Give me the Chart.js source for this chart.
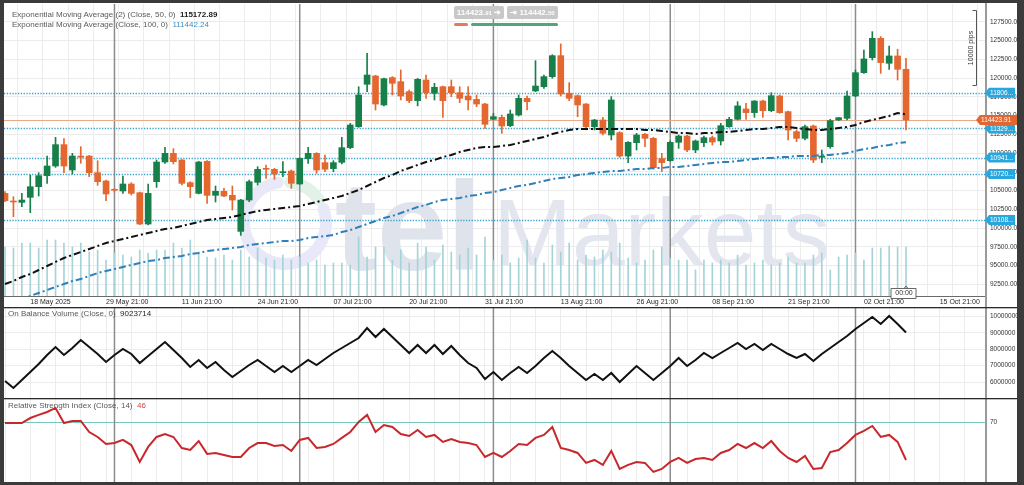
<!DOCTYPE html>
<html>
<head>
<meta charset="utf-8">
<title>Price chart</title>
<script src="https://cdn.jsdelivr.net/npm/chart.js@4.4.1/dist/chart.umd.min.js"></script>
<style>
  html, body { margin:0; padding:0; width:1024px; height:485px; overflow:hidden; background:#3b3b3b; font-family:'Liberation Sans', Arial, sans-serif; }
  #frame { position:absolute; left:4px; top:3px; width:1013px; height:479px; background:#fff; overflow:hidden; }
  #frame canvas { position:absolute; left:0; }
  .txt { position:absolute; font-size:8px; line-height:10px; color:#5a5a5a; white-space:nowrap; }
  .txt b { color:#1e1e1e; font-weight:bold; }
  .box { position:absolute; top:3px; height:13px; line-height:13px; background:#c8c8c8; color:#fff; font-size:8px; font-weight:bold; text-align:center; border-radius:2px; white-space:nowrap; }
  .bar { position:absolute; top:20px; height:3px; border-radius:2px; }
</style>
</head>
<body>
<div id="frame">
  <canvas id="cPrice" width="1013" height="304" style="top:0px"></canvas>
  <canvas id="cObv" width="1013" height="91" style="top:304px"></canvas>
  <canvas id="cRsi" width="1013" height="84" style="top:395px"></canvas>
  <div class="txt" style="left:8px;top:7px">Exponential Moving Average (2) (Close, 50, 0)&nbsp; <b>115172.89</b></div>
  <div class="txt" style="left:8px;top:17px">Exponential Moving Average (Close, 100, 0)&nbsp; <span style="color:#3d8fbf">111442.24</span></div>
  <div class="box" style="left:450px;width:50px">114423.<span style="font-size:6px">91</span> &#10132;</div>
  <div class="box" style="left:503px;width:51px">&#8677; 114442.<span style="font-size:6px">50</span></div>
  <div class="bar" style="left:450px;width:14px;background:#df7c5c"></div>
  <div class="bar" style="left:467px;width:87px;background:#50a67a"></div>
  <div class="txt" style="left:4px;top:306px">On Balance Volume (Close, 0)&nbsp; <span style="color:#1e1e1e">9023714</span></div>
  <div class="txt" style="left:4px;top:398px">Relative Strength Index (Close, 14)&nbsp; <span style="color:#d04848">46</span></div>
</div>
<script>
// ---------------- DATA ----------------
const opens = [104630,103610,103430,104100,105520,106990,108280,111130,107750,109610,
109610,107390,106280,105120,104950,105880,104720,100540,106190,108810,
109970,109080,106060,104630,108900,104370,104900,104370,99560,103740,
106100,107880,107840,107390,107610,105880,109260,109970,108730,107930,
108770,110730,113530,119180,120290,116420,120070,119530,118200,117000,
119750,117980,118860,118860,118060,117620,117170,116550,114510,114770,
113660,115080,117310,118290,118860,120200,123000,117980,117660,116550,
113530,114420,112420,112730,109610,111390,112510,111970,109260,108990,
111440,112280,110420,111390,112060,111620,113530,114510,115890,115400,
116950,115660,117620,115530,112860,111970,113620,109440,110860,114420,
114640,117620,120730,122730,125310,121980,122960,121180];
const highs = [104860,104190,104630,107080,107390,109610,112100,111930,109970,110860,
109700,108990,106410,105250,106950,106060,104810,105880,109080,110770,
110590,109150,106190,108900,108990,105610,105300,105610,103830,106410,
108190,108410,107970,108860,107750,109350,110770,110060,109750,108990,
112100,113970,118860,123310,120380,120020,120200,121090,118420,119980,
120420,119310,118950,119750,118860,118860,117750,116640,115310,115080,
115750,117750,117620,122330,120420,123130,124560,119400,117750,116600,
114510,114770,117530,112860,111530,112640,112640,112100,109970,111620,
112420,112420,111750,112280,112280,113970,114770,116860,116640,117000,
117090,118060,117750,115600,113080,113750,113750,110420,114510,114770,
118290,121090,123760,126200,125540,124290,123850,122640];
const lows = [103520,101520,102860,102050,104280,105970,108100,107390,107210,108640,
106860,105700,103660,104810,104630,104410,100450,100410,105430,108640,
108550,105750,104060,104550,103300,103480,104190,102410,99030,103520,
105750,106640,106500,106860,105300,105840,108640,107300,107520,107520,
108550,110590,113440,118200,115750,116290,117750,117090,116730,116290,
117310,117090,114770,117530,116730,115750,116200,113310,114420,112640,
113530,114950,115750,118200,118640,119980,117620,117000,114860,113080,
113080,112420,111750,109440,108730,110420,110860,107840,107520,108900,
110640,110190,110060,110860,111080,111080,113440,114420,114510,114770,
114770,115530,115310,111750,111530,111750,108730,108730,110640,114330,
114420,117530,120640,122420,120640,121180,119750,113080];
const closes = [103660,103480,103740,105520,106990,108280,111130,108280,109610,109440,
107390,106190,104550,105040,105880,104630,100540,104630,108810,109970,
108860,105970,105520,108810,104370,104900,104280,103740,103740,106190,
107840,107840,107210,107520,105970,109300,109970,107750,107840,108730,
110730,113750,117750,120420,116550,119930,119310,117620,117000,119840,
118060,118780,117000,118060,117310,117090,116550,113840,114860,113620,
115220,117310,116860,118950,120200,123000,117890,117310,116420,113530,
114420,112640,117090,109610,111440,112420,111970,108060,108730,111440,
112280,110420,111620,112060,111480,113660,114510,116290,115400,116950,
115660,117660,115400,113080,111970,113530,109080,109610,114330,114730,
117620,120730,122560,125310,122070,122960,121180,114424];
const volumes = [49,48,53,53,48,56,56,53,49,53,
44,46,36,43,41,39,46,43,46,46,
53,48,56,44,39,38,41,36,46,39,
48,38,36,41,36,39,33,36,31,33,
33,31,59,39,49,49,36,46,33,53,
49,36,51,44,41,48,41,59,36,41,
33,38,56,38,33,51,44,53,36,41,
39,46,44,53,38,33,36,46,49,38,
36,36,26,36,33,36,33,41,31,33,
36,31,33,39,33,33,41,43,26,39,
41,43,36,48,48,50,49,49];
const ema50 = [92540,92940,93470,93870,94410,94940,95480,96010,96410,96810,
97210,97610,98010,98280,98540,98810,99080,99340,99610,99880,
100010,100280,100540,100810,101080,101210,101350,101480,101750,102010,
102280,102410,102550,102680,102810,102950,103210,103480,103750,104010,
104280,104680,105080,105610,106150,106680,107080,107620,108020,108420,
108820,109080,109480,109750,110150,110420,110680,110820,110820,110950,
111080,111350,111620,111880,112150,112550,112820,113080,113220,113220,
113220,113220,113220,113220,113220,113220,113080,113080,112950,112820,
112680,112680,112550,112680,112680,112820,112820,112950,113080,113220,
113220,113350,113480,113480,113350,113220,113080,113080,113220,113350,
113480,113750,114150,114420,114690,114950,115350,115170];
const ema100 = [89740,90140,90540,90940,91340,91740,92140,92540,92940,93210,
93610,94010,94280,94540,94810,95080,95340,95610,95740,96010,
96140,96280,96540,96680,96940,97080,97210,97340,97480,97740,
97880,98010,98140,98280,98280,98410,98680,98810,98940,99080,
99480,99740,100140,100540,100950,101350,101610,102010,102410,102810,
103080,103480,103750,103880,104010,104280,104410,104680,104810,105080,
105350,105610,105750,106010,106280,106550,106680,106810,107080,107210,
107350,107480,107620,107620,107750,107880,107880,108020,108020,108150,
108150,108280,108420,108550,108680,108820,108820,108950,109080,109220,
109350,109350,109480,109480,109620,109620,109620,109750,109750,109880,
110020,110280,110550,110680,110950,111080,111350,111440];
const obv = [6061000,5634000,6122000,6611000,7099000,7649000,8137000,7649000,8076000,8565000,
8137000,7710000,7221000,7649000,8015000,7710000,7160000,7588000,8015000,8443000,
7954000,7466000,6916000,7344000,6855000,7221000,6733000,6305000,6672000,7038000,
7344000,6977000,6611000,6977000,6611000,6977000,7344000,7038000,7405000,7771000,
8076000,8382000,8687000,9298000,8748000,9237000,8748000,8260000,7771000,8260000,
7771000,8260000,7710000,8199000,7649000,7160000,6855000,6183000,6611000,6122000,
6550000,6916000,6550000,6977000,7466000,7893000,7466000,6977000,6550000,6122000,
6489000,6122000,6550000,6000000,6489000,6977000,6550000,6122000,6550000,6977000,
7466000,6977000,7344000,7771000,7466000,7771000,8076000,8382000,8015000,8321000,
7954000,8321000,8015000,7710000,7466000,7710000,7282000,7710000,8076000,8443000,
8809000,9237000,9603000,9969000,9542000,10031000,9542000,9023714];
const rsi = [69.8,69.8,69.8,73.0,75.0,76.9,79.5,69.8,71.1,71.1,
64.0,60.8,56.3,56.9,58.9,55.6,44.7,54.4,60.8,62.7,
60.8,53.7,52.4,58.2,49.9,50.5,49.2,47.9,47.9,53.7,
56.9,56.9,55.0,55.6,51.8,58.9,60.2,53.7,54.4,56.3,
60.2,64.0,70.5,75.0,64.0,68.5,67.2,62.7,61.4,65.3,
60.8,62.1,57.6,59.5,57.6,56.9,55.6,47.9,50.5,47.9,
51.8,56.3,55.6,60.2,62.1,67.2,53.7,52.4,50.5,44.1,
46.0,42.8,51.8,40.2,42.8,44.7,44.1,38.3,40.2,44.7,
47.3,44.1,46.6,47.3,46.0,50.5,52.4,56.3,53.7,56.9,
53.7,58.2,51.8,47.3,44.7,48.6,40.2,40.8,51.1,52.4,
56.9,62.1,64.7,67.9,60.8,62.1,57.6,46.0];

const tickIndex = [3,12,21,30,39,48,57,66,75,84,93,102,111];
const tickLabels = ['18 May 2025','29 May 21:00','11 Jun 21:00','24 Jun 21:00','07 Jul 21:00','20 Jul 21:00','31 Jul 21:00','13 Aug 21:00','26 Aug 21:00','08 Sep 21:00','21 Sep 21:00','02 Oct 21:00','15 Oct 21:00'];
const priceTicks = [92500,95000,97500,100000,102500,105000,107500,110000,112500,115000,117500,120000,122500,125000,127500];
const obvTicks = [6000000,7000000,8000000,9000000,10000000];
const rsiTicks = [70];
const levelValues = [118060,113290,109410,107200,101080];
const levelLabels = ['11806...','11329...','10941...','10720...','10108...'];
const currentPrice = 114423.91;
const currentLabel = '114423.91';
const monthStarts = [13,35,58,79,101];
const pipsTop = 129100, pipsSpan = 10000;

// ---------------- SETUP ----------------
const X_MIN = -0.12, X_MAX = 116.5;
const P_MIN = 90940, P_MAX = 129890;
const gridIdx = [];
for (let i = 0; i <= 114; i += 3) gridIdx.push(i);
const labelMap = {};
tickIndex.forEach((v, k) => labelMap[v] = tickLabels[k]);
const idx = closes.map((_, i) => i);
const UP = '#17804a', DOWN = '#e4672f';
const candleColor = c => closes[c.dataIndex] >= opens[c.dataIndex] ? UP : DOWN;
const FONT = "'Liberation Sans', Arial, sans-serif";

Chart.defaults.font.family = FONT;
Chart.defaults.animation = false;
Chart.defaults.responsive = false;
Chart.defaults.devicePixelRatio = 1;
Chart.defaults.events = [];
Chart.defaults.plugins.legend.display = false;
Chart.defaults.plugins.tooltip.enabled = false;

function noPad(s) { s.paddingTop = 0; s.paddingBottom = 0; s.paddingLeft = 0; s.paddingRight = 0; }

function xAxis(showLabels) {
  return {
    type: 'linear', min: X_MIN, max: X_MAX, offset: false,
    afterBuildTicks: s => { s.ticks = gridIdx.map(v => ({ value: v })); },
    grid: { color: '#ececec', lineWidth: 1, drawTicks: false },
    border: { display: showLabels, color: '#6a6a6a', width: 1 },
    ticks: { display: showLabels, autoSkip: false, maxRotation: 0, minRotation: 0, align: 'start',
             padding: 2, color: '#2a2a2a', font: { size: 7 }, callback: v => labelMap[v] || '' },
    afterFit: s => { s.height = showLabels ? 11 : 0; noPad(s); }
  };
}

function yAxis(min, max, ticks, fmt, gridColor) {
  return {
    type: 'linear', position: 'right', min: min, max: max,
    afterBuildTicks: s => { s.ticks = ticks.map(v => ({ value: v })); },
    grid: { color: gridColor, drawTicks: false },
    border: { display: true, color: '#9a9a9a', width: 2 },
    ticks: { padding: 4, color: '#333', font: { size: 6.5 }, callback: fmt },
    afterFit: s => { s.width = 31; noPad(s); }
  };
}

const monthLines = {
  id: 'monthLines',
  beforeDatasetsDraw(chart) {
    const { ctx, chartArea: a, scales: { x } } = chart;
    ctx.save();
    ctx.strokeStyle = '#8c8c8c'; ctx.lineWidth = 1.5;
    monthStarts.forEach(i => {
      const px = x.getPixelForValue(i);
      ctx.beginPath(); ctx.moveTo(px, a.top); ctx.lineTo(px, a.bottom); ctx.stroke();
    });
    ctx.restore();
  }
};

const topLine = {
  id: 'topLine',
  afterDraw(chart) {
    const ctx = chart.ctx;
    ctx.save(); ctx.fillStyle = '#2a2a2a'; ctx.fillRect(0, 0, chart.width, 1.3); ctx.restore();
  }
};

const watermark = {
  id: 'watermark',
  beforeDatasetsDraw(chart) {
    const { ctx, chartArea: a } = chart;
    ctx.save();
    ctx.beginPath(); ctx.rect(a.left, a.top, a.right - a.left, a.bottom - a.top); ctx.clip();
    const cx = 281, cy = 220, r = 41;
    ctx.lineWidth = 12; ctx.lineCap = 'round';
    ctx.strokeStyle = '#e8e8f8';
    ctx.beginPath(); ctx.arc(cx, cy, r, -0.35, -1.75, false); ctx.stroke();
    ctx.strokeStyle = '#e2f2e8';
    ctx.beginPath(); ctx.arc(cx, cy, r, -1.45, -0.6, false); ctx.stroke();
    ctx.textBaseline = 'alphabetic'; ctx.textAlign = 'left';
    ctx.fillStyle = '#dfe3ec';
    ctx.font = "bold 100px " + FONT;
    let w = ctx.measureText('tel').width;
    ctx.font = "bold " + (100 * 147 / w).toFixed(1) + "px " + FONT;
    ctx.fillText('tel', 331, 267);
    ctx.fillStyle = '#e3e6ee';
    ctx.font = "100px " + FONT;
    w = ctx.measureText('Markets').width;
    ctx.font = (100 * 337 / w).toFixed(1) + "px " + FONT;
    ctx.fillText('Markets', 489, 262);
    ctx.restore();
  }
};

const levels = {
  id: 'levels',
  beforeDatasetsDraw(chart) {
    const { ctx, chartArea: a, scales: { y } } = chart;
    ctx.save();
    ctx.strokeStyle = '#3aa2cc'; ctx.lineWidth = 1.3; ctx.setLineDash([1.3, 1.5]);
    levelValues.forEach(v => {
      const py = Math.round(y.getPixelForValue(v)) + 0.5;
      ctx.beginPath(); ctx.moveTo(a.left, py); ctx.lineTo(a.right, py); ctx.stroke();
    });
    ctx.setLineDash([]);
    ctx.strokeStyle = '#eaa88c'; ctx.lineWidth = 1;
    const cp = Math.round(y.getPixelForValue(currentPrice)) + 0.5;
    ctx.beginPath(); ctx.moveTo(a.left, cp); ctx.lineTo(a.right, cp); ctx.stroke();
    ctx.restore();
  }
};

function tag(ctx, xL, xR, yc, color, text) {
  ctx.fillStyle = color;
  ctx.beginPath();
  ctx.moveTo(xL, yc);
  ctx.lineTo(xL + 4, yc - 5);
  ctx.lineTo(xR, yc - 5);
  ctx.lineTo(xR, yc + 5);
  ctx.lineTo(xL + 4, yc + 5);
  ctx.closePath(); ctx.fill();
  ctx.fillStyle = '#fff';
  ctx.font = "6.5px " + FONT; ctx.textBaseline = 'middle'; ctx.textAlign = 'left';
  ctx.fillText(text, xL + 5, yc + 0.5);
}

const priceOverlay = {
  id: 'priceOverlay',
  afterDraw(chart) {
    const { ctx, chartArea: a, scales: { x, y } } = chart;
    ctx.save();
    ctx.fillStyle = '#9a9a9a';
    ctx.fillRect(a.right - 1, a.bottom, 2, chart.height - a.bottom);
    levelValues.forEach((v, k) => tag(ctx, a.right - 1, chart.width - 2, y.getPixelForValue(v), '#27a7de', levelLabels[k]));
    tag(ctx, a.right - 10, chart.width, y.getPixelForValue(currentPrice), '#e2662f', currentLabel);
    const bx = a.right - 9.5;
    const y1 = Math.round(y.getPixelForValue(pipsTop)) + 0.5;
    const y2 = Math.round(y.getPixelForValue(pipsTop - pipsSpan)) + 0.5;
    ctx.strokeStyle = '#555'; ctx.lineWidth = 1;
    ctx.beginPath();
    ctx.moveTo(bx - 4, y1); ctx.lineTo(bx, y1); ctx.lineTo(bx, y2); ctx.lineTo(bx - 4, y2);
    ctx.stroke();
    ctx.translate(bx - 5, (y1 + y2) / 2);
    ctx.rotate(-Math.PI / 2);
    ctx.fillStyle = '#333'; ctx.font = "7px " + FONT; ctx.textAlign = 'center'; ctx.textBaseline = 'middle';
    ctx.fillText('10000 pips', 0, 0);
    ctx.setTransform(1, 0, 0, 1, 0, 0);
    const lx = x.getPixelForValue(closes.length - 1) - 3;
    const bw = 25, bh = 10, by = a.bottom - 8;
    ctx.fillStyle = '#fff'; ctx.strokeStyle = '#666';
    ctx.beginPath();
    ctx.rect(lx - bw / 2 + 0.5, by + 0.5, bw, bh);
    ctx.fill(); ctx.stroke();
    ctx.beginPath(); ctx.moveTo(lx + 1, by + 0.5); ctx.lineTo(lx + 3, by - 2); ctx.lineTo(lx + 5, by + 0.5); ctx.stroke();
    ctx.fillStyle = '#333'; ctx.font = "7px " + FONT; ctx.textAlign = 'center'; ctx.textBaseline = 'middle';
    ctx.fillText('00:00', lx + 1, by + 5.5);
    ctx.restore();
  }
};

// ---------------- PRICE PANEL ----------------
new Chart(document.getElementById('cPrice'), {
  type: 'bar',
  data: {
    datasets: [
      { type: 'line', data: idx.map(i => ({ x: i, y: ema50[i] })), borderColor: '#111', borderWidth: 2,
        borderDash: [7, 3, 2, 3], pointRadius: 0, tension: 0, order: 0 },
      { type: 'line', data: idx.map(i => ({ x: i, y: ema100[i] })), borderColor: '#2f80b8', borderWidth: 2,
        borderDash: [7, 3, 2, 3], pointRadius: 0, tension: 0, order: 0 },
      { type: 'bar', data: idx.map(i => ({ x: i, y: [opens[i], closes[i]] })), backgroundColor: candleColor,
        barThickness: 6, minBarLength: 1, grouped: false, order: 1 },
      { type: 'bar', data: idx.map(i => ({ x: i, y: [lows[i], highs[i]] })), backgroundColor: candleColor,
        barThickness: 1, grouped: false, order: 2 },
      { type: 'bar', yAxisID: 'yv', data: idx.map(i => ({ x: i, y: volumes[i] })), backgroundColor: '#a4d4da',
        barThickness: 1, grouped: false, order: 5 }
    ]
  },
  options: {
    layout: { padding: { top: 1, left: 0, right: 0, bottom: 0 } },
    scales: {
      x: xAxis(true),
      y: yAxis(P_MIN, P_MAX, priceTicks, v => v.toFixed(2), '#ececec'),
      yv: { type: 'linear', display: false, min: 0, max: 292 }
    }
  },
  plugins: [watermark, monthLines, levels, priceOverlay]
});

// ---------------- OBV PANEL ----------------
new Chart(document.getElementById('cObv'), {
  type: 'line',
  data: {
    datasets: [
      { data: idx.map(i => ({ x: i, y: obv[i] })), borderColor: '#111', borderWidth: 2, pointRadius: 0, tension: 0 }
    ]
  },
  options: {
    layout: { padding: 0 },
    scales: {
      x: xAxis(false),
      y: yAxis(5023000, 10580000, obvTicks, v => v.toFixed(0), '#ececec')
    }
  },
  plugins: [monthLines, topLine]
});

// ---------------- RSI PANEL ----------------
new Chart(document.getElementById('cRsi'), {
  type: 'line',
  data: {
    datasets: [
      { data: idx.map(i => ({ x: i, y: rsi[i] })), borderColor: '#c8282c', borderWidth: 2, pointRadius: 0, tension: 0 }
    ]
  },
  options: {
    layout: { padding: 0 },
    scales: {
      x: xAxis(false),
      y: yAxis(31.8, 85.9, rsiTicks, v => String(v), '#79c9ba')
    }
  },
  plugins: [monthLines, topLine]
});
</script>
</body>
</html>
